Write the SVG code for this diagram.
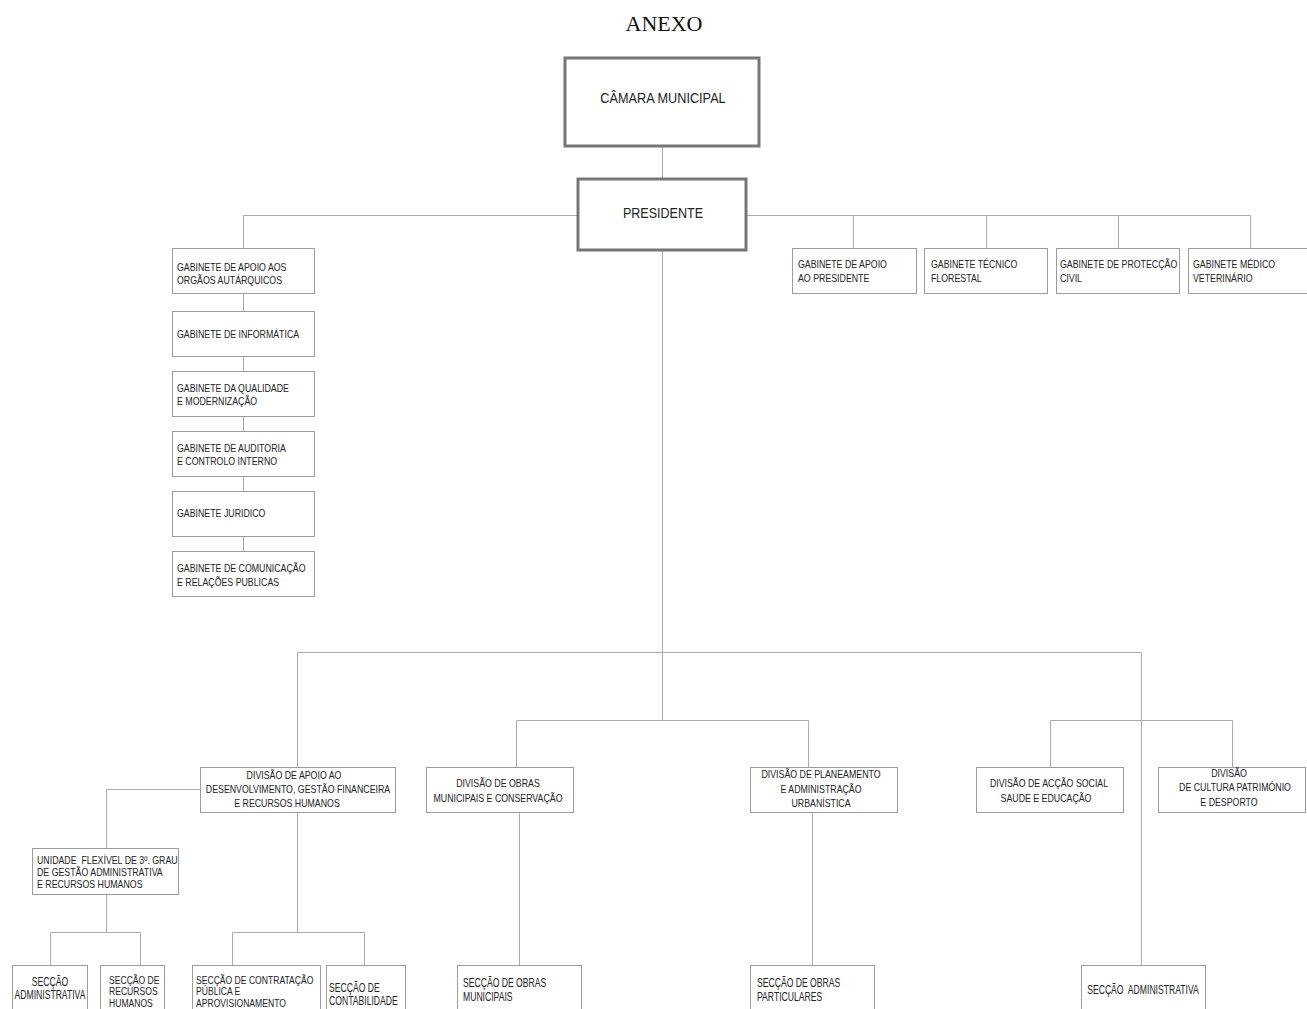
<svg xmlns="http://www.w3.org/2000/svg" width="1307" height="1009" viewBox="0 0 1307 1009">
<style>
.bg{fill:#fff}
.box{fill:#fff;stroke:#9c9c9c;stroke-width:1}
.big{fill:#fff;stroke:#767676;stroke-width:3}
.ln{fill:none;stroke:#ababab;stroke-width:1}
text{font-family:"Liberation Sans",Arial,sans-serif;fill:#222;font-size:11px}
.c{text-anchor:middle}
.s{font-size:12.5px}
.s3{font-size:11px}
.t{font-family:"Liberation Serif","Times New Roman",serif;font-size:22px;fill:#111}
.h{font-size:15.5px}
</style>
<rect class="bg" x="0" y="0" width="1307" height="1009"/>
<text class="t c" x="664" y="31">ANEXO</text>

<g id="connectors">
<path class="ln" d="M662.5 147V178 M662.5 251V720"/>
<path class="ln" d="M577 215.5H243.5V248 M747 215.5H1250.5V248 M853.5 215.5V248 M986.5 215.5V248 M1118.5 215.5V248"/>
<path class="ln" d="M243.5 293V311 M243.5 356V371 M243.5 416V431 M243.5 477V491 M243.5 537V551"/>
<path class="ln" d="M297.5 767V652.5H1141.5V965 M516.5 767V720.5H808.5V767 M1050.5 767V720.5H1232.5V767"/>
<path class="ln" d="M200 789.5H106.5V848 M106.5 894V932.5 M50.5 965V932.5H140.5V965"/>
<path class="ln" d="M297.5 813V932.5 M232.5 965V932.5H364.5V965"/>
<path class="ln" d="M519.5 813V965 M812.5 813V965"/>
</g>

<g id="camara"><rect class="big" x="565" y="58" width="194" height="88"/><text class="h c" transform="translate(663 103) scale(.82 1)">CÂMARA MUNICIPAL</text></g>
<g id="presidente"><rect class="big" x="578" y="179" width="168" height="71"/><text class="h c" transform="translate(663 218) scale(.81 1)">PRESIDENTE</text></g>

<g id="g-apoio-orgaos"><rect class="box" x="172.5" y="248.5" width="142" height="45"/><text transform="translate(177 271) scale(.8 1)"><tspan x="0">GABINETE DE APOIO AOS</tspan><tspan x="0" y="13">ORGÃOS AUTÁRQUICOS</tspan></text></g>
<g id="g-informatica"><rect class="box" x="172.5" y="311.5" width="142" height="45"/><text transform="translate(177 338) scale(.8 1)">GABINETE DE INFORMÁTICA</text></g>
<g id="g-qualidade"><rect class="box" x="172.5" y="371.5" width="142" height="45"/><text transform="translate(177 392) scale(.8 1)"><tspan x="0">GABINETE DA QUALIDADE</tspan><tspan x="0" y="13">E MODERNIZAÇÃO</tspan></text></g>
<g id="g-auditoria"><rect class="box" x="172.5" y="431.5" width="142" height="45"/><text transform="translate(177 452) scale(.8 1)"><tspan x="0">GABINETE DE AUDITORIA</tspan><tspan x="0" y="13">E CONTROLO INTERNO</tspan></text></g>
<g id="g-juridico"><rect class="box" x="172.5" y="491.5" width="142" height="45"/><text transform="translate(177 517) scale(.8 1)">GABINETE JURIDICO</text></g>
<g id="g-comunicacao"><rect class="box" x="172.5" y="551.5" width="142" height="45"/><text transform="translate(177 572) scale(.8 1)"><tspan x="0">GABINETE DE COMUNICAÇÃO</tspan><tspan x="0" y="14">E RELAÇÕES PUBLICAS</tspan></text></g>

<g id="g-apoio-presidente"><rect class="box" x="792.5" y="248.5" width="124" height="45"/><text transform="translate(798 268) scale(.8 1)"><tspan x="0">GABINETE DE APOIO</tspan><tspan x="0" y="14">AO PRESIDENTE</tspan></text></g>
<g id="g-florestal"><rect class="box" x="924.5" y="248.5" width="123" height="45"/><text transform="translate(931 268) scale(.8 1)"><tspan x="0">GABINETE TÉCNICO</tspan><tspan x="0" y="14">FLORESTAL</tspan></text></g>
<g id="g-proteccao"><rect class="box" x="1056.5" y="248.5" width="123" height="45"/><text transform="translate(1060 268) scale(.8 1)"><tspan x="0">GABINETE DE PROTECÇÃO</tspan><tspan x="0" y="14">CIVIL</tspan></text></g>
<g id="g-veterinario"><rect class="box" x="1188.5" y="248.5" width="124" height="45"/><text transform="translate(1193 268) scale(.8 1)"><tspan x="0">GABINETE MÉDICO</tspan><tspan x="0" y="14">VETERINÁRIO</tspan></text></g>

<g id="d-apoio"><rect class="box" x="200.5" y="767.5" width="195" height="45"/><text class="c" transform="translate(294 779) scale(.8 1)">DIVISÃO DE APOIO AO</text><text class="c" transform="translate(298 793) scale(.8 1)">DESENVOLVIMENTO, GESTÃO FINANCEIRA</text><text class="c" transform="translate(287 807) scale(.8 1)">E RECURSOS HUMANOS</text></g>
<g id="d-obras"><rect class="box" x="426.5" y="767.5" width="147" height="45"/><text class="c" transform="translate(498 787) scale(.8 1)"><tspan x="0">DIVISÃO DE OBRAS</tspan><tspan x="0" y="15">MUNICIPAIS E CONSERVAÇÃO</tspan></text></g>
<g id="d-planeamento"><rect class="box" x="750.5" y="767.5" width="147" height="45"/><text class="c" transform="translate(821 778) scale(.8 1)"><tspan x="0">DIVISÃO DE PLANEAMENTO</tspan><tspan x="0" y="15">E ADMINISTRAÇÃO</tspan><tspan x="0" y="29">URBANÍSTICA</tspan></text></g>
<g id="d-accao"><rect class="box" x="976.5" y="767.5" width="147" height="45"/><text class="c" transform="translate(1049 787) scale(.8 1)">DIVISÃO DE ACÇÃO SOCIAL</text><text class="c" transform="translate(1046 802) scale(.8 1)">SAUDE E EDUCAÇÃO</text></g>
<g id="d-cultura"><rect class="box" x="1158.5" y="767.5" width="147" height="45"/><text class="c" transform="translate(1229 777) scale(.8 1)">DIVISÃO</text><text class="c" transform="translate(1235 791) scale(.8 1)">DE CULTURA PATRIMÓNIO</text><text class="c" transform="translate(1229 806) scale(.8 1)">E DESPORTO</text></g>

<g id="u-flexivel"><rect class="box" x="32.5" y="848.5" width="146" height="46"/><text transform="translate(37 864) scale(.8 1)" xml:space="preserve"><tspan x="0">UNIDADE  FLEXÍVEL DE 3º. GRAU</tspan><tspan x="0" y="12">DE GESTÃO ADMINISTRATIVA</tspan><tspan x="0" y="24">E RECURSOS HUMANOS</tspan></text></g>

<g id="s-administrativa"><rect class="box" x="12.5" y="965.5" width="75" height="50"/><text class="s c" transform="translate(50 986) scale(.69 1)"><tspan x="0">SECÇÃO</tspan><tspan x="0" y="13">ADMINISTRATIVA</tspan></text></g>
<g id="s-rh"><rect class="box" x="100.5" y="965.5" width="64" height="50"/><text class="s3" transform="translate(109 984) scale(.78 1)"><tspan x="0">SECÇÃO DE</tspan><tspan x="0" y="11.5">RECURSOS</tspan><tspan x="0" y="23">HUMANOS</tspan></text></g>
<g id="s-contratacao"><rect class="box" x="192.5" y="965.5" width="128" height="50"/><text class="s3" transform="translate(196 984) scale(.78 1)"><tspan x="0">SECÇÃO DE CONTRATAÇÃO</tspan><tspan x="0" y="11.5">PÚBLICA E</tspan><tspan x="0" y="23">APROVISIONAMENTO</tspan></text></g>
<g id="s-contabilidade"><rect class="box" x="326.5" y="965.5" width="79" height="50"/><text class="s" transform="translate(329 992) scale(.69 1)"><tspan x="0">SECÇÃO DE</tspan><tspan x="0" y="13">CONTABILIDADE</tspan></text></g>
<g id="s-obras-municipais"><rect class="box" x="457.5" y="965.5" width="124" height="50"/><text class="s" transform="translate(463 987) scale(.69 1)"><tspan x="0">SECÇÃO DE OBRAS</tspan><tspan x="0" y="14">MUNICIPAIS</tspan></text></g>
<g id="s-obras-particulares"><rect class="box" x="750.5" y="965.5" width="124" height="50"/><text class="s" transform="translate(757 987) scale(.69 1)"><tspan x="0">SECÇÃO DE OBRAS</tspan><tspan x="0" y="14">PARTICULARES</tspan></text></g>
<g id="s-administrativa-2"><rect class="box" x="1081.5" y="965.5" width="124" height="50"/><text class="s c" transform="translate(1143 994) scale(.69 1)" xml:space="preserve">SECÇÃO  ADMINISTRATIVA</text></g>
</svg>
